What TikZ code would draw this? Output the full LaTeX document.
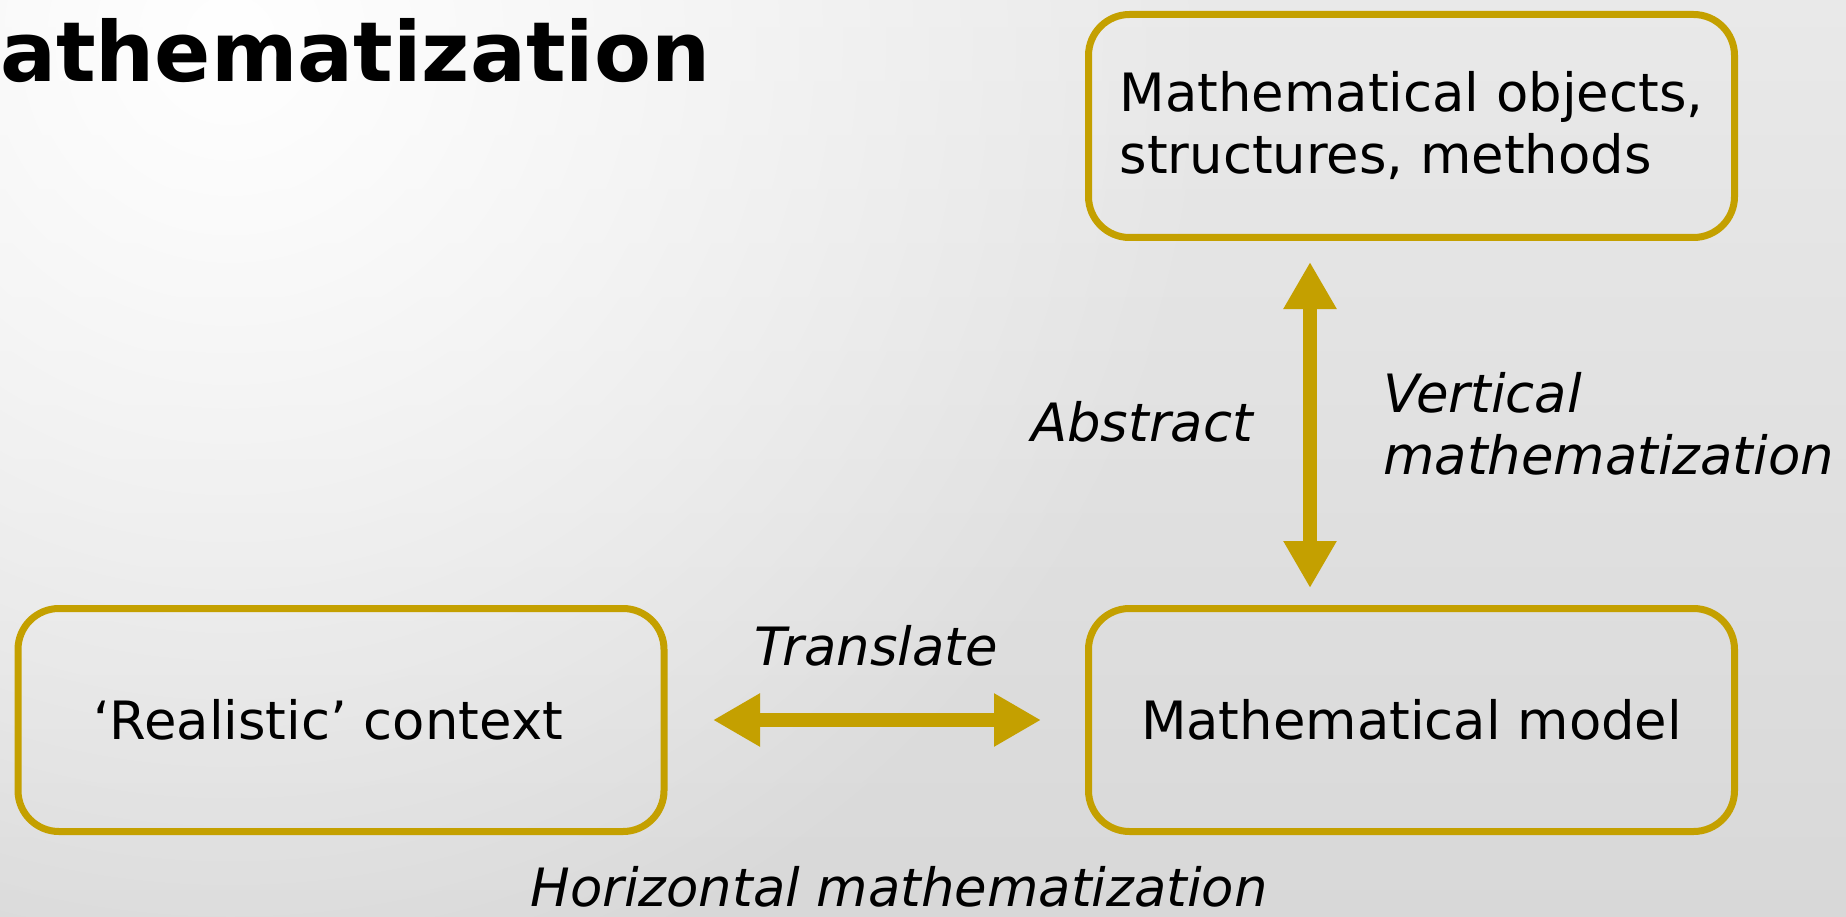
\documentclass[tikz,border=0pt]{standalone}
\usepackage{fontspec}
\setmainfont{DejaVu Sans}
\usetikzlibrary{arrows.meta,fadings}
\definecolor{gold}{RGB}{196,160,0}
\definecolor{bgtop}{RGB}{233,233,233}
\definecolor{bgbot}{RGB}{216,216,216}
\newcommand\lblfont{\fontsize{52.8pt}{62pt}\selectfont}
\newcommand\ttlfont{\fontsize{83pt}{96pt}\selectfont}
\tikzfading[name=glowfade, inner color=transparent!0, outer color=transparent!100]
\begin{document}
\begin{tikzpicture}[x=1pt,y=-1pt,
  box/.style={draw=gold, line width=7pt, rounded corners=41pt, minimum width=646pt,
    minimum height=223pt, inner sep=0pt, font=\lblfont, align=left},
  dblarrow/.style={draw=gold, line width=14pt,
    {Triangle[width=50pt,length=47pt]}-{Triangle[width=50pt,length=47pt]}},
  lbl/.style={inner sep=0pt, font=\lblfont\itshape}]
\useasboundingbox (0,0) rectangle (1846,917);
\shade[top color=bgtop, bottom color=bgbot] (0,0) rectangle (1846,917);
\begin{scope}
  \clip (0,0) rectangle (1846,917);
  \fill[white, path fading=glowfade] (230,40) circle (1000);
\end{scope}
\node[anchor=base west, inner sep=0pt, font=\ttlfont\bfseries] (title) at (0,82) {athematization};
\node[box] (obj) at (1411.5,126) {Mathematical objects,\\structures, methods};
\node[box] (rl) at (341,720) {\kern-26pt‘Realistic’ context};
\node[box] (mm) at (1411.5,720) {Mathematical model};
\draw[dblarrow, shorten <=45.5pt, shorten >=44pt] (rl.east) -- (mm.west);
\draw[dblarrow, shorten <=21pt, shorten >=17pt] ([xshift=-101.5pt]obj.south) -- ([xshift=-101.5pt]mm.north);
\node[lbl, anchor=base] (tr) at (876,665) {Translate};
\node[lbl, anchor=base east] (ab) at (1253,441) {Abstract};
\node[lbl, anchor=base west, align=left] (vm) at (1383,474) {Vertical\\mathematization};
\node[lbl, anchor=base] (hm) at (899,906) {Horizontal mathematization};
\end{tikzpicture}
\end{document}
